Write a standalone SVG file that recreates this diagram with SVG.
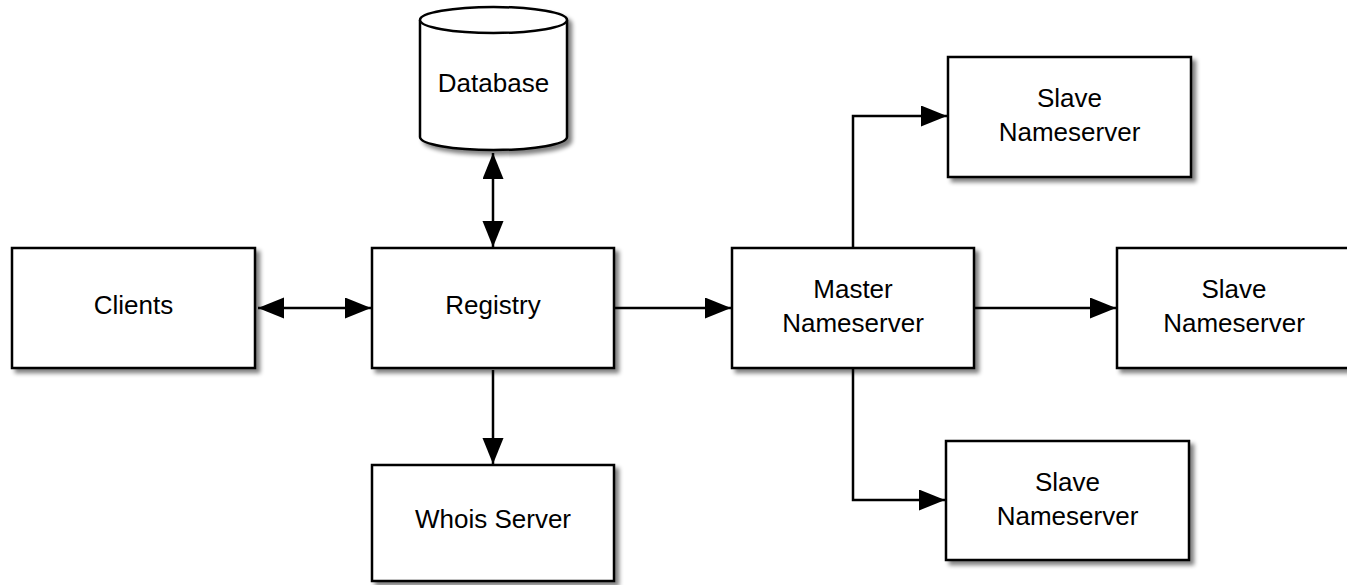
<svg xmlns="http://www.w3.org/2000/svg" width="1347" height="585" viewBox="0 0 1347 585">
  <style>
    .box { fill: #ffffff; stroke: #000000; stroke-width: 2.5; filter: url(#shadow); }
    .cyl { fill: #ffffff; stroke: #000000; stroke-width: 2.5; }
    .lbl { font-family: "Liberation Sans", Arial, Helvetica, sans-serif; font-size: 26px; fill: #000000; text-anchor: middle; }
    .edge { fill: none; stroke: #000000; stroke-width: 2.5; }
  </style>
  <defs>
    <filter id="shadow" x="-10%" y="-10%" width="130%" height="130%">
      <feGaussianBlur in="SourceAlpha" stdDeviation="2"/>
      <feOffset dx="4" dy="4" result="b"/>
      <feComponentTransfer><feFuncA type="linear" slope="0.5"/></feComponentTransfer>
      <feMerge><feMergeNode/><feMergeNode in="SourceGraphic"/></feMerge>
    </filter>
    <marker id="arrow" markerUnits="userSpaceOnUse" markerWidth="27" markerHeight="22" refX="26" refY="10.5" orient="auto-start-reverse">
      <path d="M0,0 L26,10.5 L0,21 Z" fill="#000000"/>
    </marker>
  </defs>

  <g id="connectors">
    <line class="edge" x1="258" y1="308" x2="371" y2="308" marker-start="url(#arrow)" marker-end="url(#arrow)"/>
    <line class="edge" x1="493" y1="153" x2="493" y2="247" marker-start="url(#arrow)" marker-end="url(#arrow)"/>
    <line class="edge" x1="493" y1="370" x2="493" y2="464" marker-end="url(#arrow)"/>
    <line class="edge" x1="615" y1="308" x2="731" y2="308" marker-end="url(#arrow)"/>
    <line class="edge" x1="975" y1="308" x2="1116" y2="308" marker-end="url(#arrow)"/>
    <polyline class="edge" points="853,247 853,116 947,116" marker-end="url(#arrow)"/>
    <polyline class="edge" points="853,369 853,500 945,500" marker-end="url(#arrow)"/>
  </g>

  <g id="database">
    <g filter="url(#shadow)">
      <path class="cyl" d="M420,20 L420,137 A73.5,13 0 0 0 567,137 L567,20 A73.5,13 0 0 0 420,20 Z"/>
      <path class="cyl" d="M420,20 A73.5,13 0 0 0 567,20"/>
    </g>
    <text class="lbl" x="493.5" y="92">Database</text>
  </g>

  <g id="clients">
    <rect class="box" x="12" y="248" width="243" height="120"/>
    <text class="lbl" x="133.5" y="314">Clients</text>
  </g>

  <g id="registry">
    <rect class="box" x="372" y="248" width="242" height="120"/>
    <text class="lbl" x="493" y="314">Registry</text>
  </g>

  <g id="whois">
    <rect class="box" x="372" y="465" width="242" height="116"/>
    <text class="lbl" x="493" y="528">Whois Server</text>
  </g>

  <g id="master">
    <rect class="box" x="732" y="248" width="242" height="120"/>
    <text class="lbl" x="853" y="298">Master</text>
    <text class="lbl" x="853" y="332">Nameserver</text>
  </g>

  <g id="slave1">
    <rect class="box" x="948" y="57" width="243" height="120"/>
    <text class="lbl" x="1069.5" y="107">Slave</text>
    <text class="lbl" x="1069.5" y="141">Nameserver</text>
  </g>

  <g id="slave2">
    <rect class="box" x="1117" y="248" width="242" height="120"/>
    <text class="lbl" x="1234" y="298">Slave</text>
    <text class="lbl" x="1234" y="332">Nameserver</text>
  </g>

  <g id="slave3">
    <rect class="box" x="946" y="441" width="243" height="119"/>
    <text class="lbl" x="1067.5" y="491">Slave</text>
    <text class="lbl" x="1067.5" y="525">Nameserver</text>
  </g>
</svg>
